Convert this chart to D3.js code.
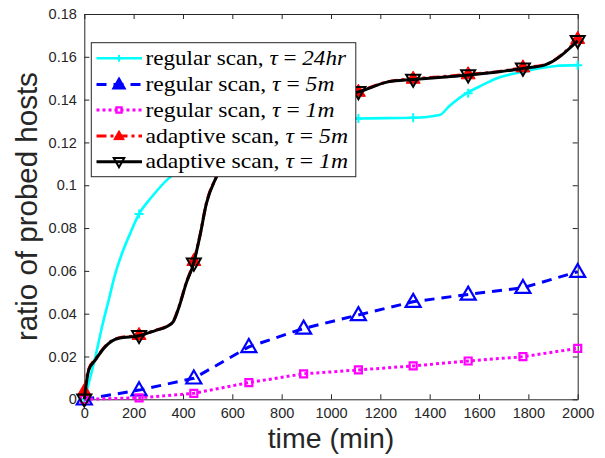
<!DOCTYPE html>
<html>
<head>
<meta charset="utf-8">
<script src="https://cdn.jsdelivr.net/npm/d3@7"></script>
<style>
html,body{margin:0;padding:0;background:#fff;}
svg{display:block;}
</style>
</head>
<body>
<svg id="chart" width="605" height="458"></svg>
<script>
// ---------- data ----------
const markerTimes = [0, 222, 444, 667, 889, 1111, 1333, 1556, 1778, 2000];

// regular scan, tau = 24hr (dense curve)
const cyanT = [0, 18, 45, 72, 99, 126, 153, 186, 222, 274, 342, 400, 500, 666, 888, 1050, 1111, 1333, 1440, 1480, 1548, 1600, 1670, 1777, 1912, 2000];
const cyanV = [0, 0.0075, 0.0199, 0.0339, 0.0464, 0.0588, 0.0682, 0.0775, 0.0866, 0.0946, 0.1032, 0.108, 0.114, 0.122, 0.128, 0.1308, 0.1312, 0.1315, 0.1328, 0.137, 0.1429, 0.146, 0.1499, 0.153, 0.1557, 0.1561];
const cyanMarkV = [0, 0.0866, 0.1075, 0.122, 0.128, 0.1312, 0.1315, 0.143, 0.153, 0.1561];

// regular scan, tau = 5m
const blueV = [0, 0.0043, 0.0098, 0.0245, 0.0331, 0.0394, 0.0456, 0.049, 0.0521, 0.0596];
// regular scan, tau = 1m
const magV = [0, 0.0007, 0.0028, 0.0078, 0.0119, 0.0137, 0.0156, 0.0179, 0.0199, 0.0238];

// adaptive scan, tau = 1m (dense curve)
const blackT = [0, 18, 45, 85, 139, 222, 290, 333, 360, 385, 414, 441, 468, 495, 536, 600, 700, 800, 900, 1000, 1111, 1231, 1333, 1450, 1548, 1683, 1778, 1865, 2000];
const blackV = [0, 0.0137, 0.0184, 0.0246, 0.0285, 0.0297, 0.0322, 0.0339, 0.0362, 0.0435, 0.0545, 0.0627, 0.0759, 0.0915, 0.104, 0.118, 0.13, 0.136, 0.139, 0.141, 0.1436, 0.1483, 0.1494, 0.1505, 0.1514, 0.153, 0.1546, 0.1561, 0.1675];
const blackMarkV = [0, 0.0297, 0.0635, 0.13, 0.1385, 0.1436, 0.1494, 0.1514, 0.1546, 0.1675];

// adaptive scan, tau = 5m (dense curve)
const redT = [0, 18, 45, 85, 139, 222, 290, 333, 360, 385, 414, 441, 468, 495, 536, 600, 700, 800, 900, 1000, 1111, 1231, 1333, 1450, 1548, 1683, 1778, 1865, 2000];
const redV = [0.004, 0.0142, 0.0187, 0.0248, 0.0287, 0.0299, 0.0323, 0.034, 0.0364, 0.0438, 0.0548, 0.0632, 0.0762, 0.0917, 0.1042, 0.118, 0.13, 0.136, 0.139, 0.141, 0.1438, 0.1484, 0.1497, 0.1507, 0.1517, 0.1532, 0.1549, 0.1563, 0.168];
const redMarkV = [0.004, 0.0302, 0.0648, 0.13, 0.1385, 0.1438, 0.1499, 0.152, 0.1552, 0.1685];

const xTicks = [0, 200, 400, 600, 800, 1000, 1200, 1400, 1600, 1800, 2000];
const xTickLabels = ["0", "200", "400", "600", "800", "1000", "1200", "1400", "1600", "1800", "2000"];
const yTicks = [0, 0.02, 0.04, 0.06, 0.08, 0.1, 0.12, 0.14, 0.16, 0.18];
const yTickLabels = ["0", "0.02", "0.04", "0.06", "0.08", "0.1", "0.12", "0.14", "0.16", "0.18"];

const legendLabels = [
  {pre: "regular scan, ", val: "24hr"},
  {pre: "regular scan, ", val: "5m"},
  {pre: "regular scan, ", val: "1m"},
  {pre: "adaptive scan, ", val: "5m"},
  {pre: "adaptive scan, ", val: "1m"}
];

// ---------- layout ----------
const svg = d3.select("#chart");
const L = 84.3, R = 577.7, T = 14, B = 399.3;
const x = d3.scaleLinear().domain([0, 2000]).range([L, R]);
const y = d3.scaleLinear().domain([0, 0.18]).range([B, T]);
const axisCol = "#262626";

svg.append("rect").attr("width", 605).attr("height", 458).attr("fill", "#fff");

// axes (ticks inward)
const fontSans = "'Liberation Sans', Arial, Helvetica, sans-serif";
const gx = svg.append("g").attr("transform", `translate(0,${B})`)
  .call(d3.axisBottom(x).tickValues(xTicks).tickFormat((d, i) => xTickLabels[i]).tickSizeInner(-5).tickSizeOuter(0).tickPadding(8.5));
const gy = svg.append("g").attr("transform", `translate(${L},0)`)
  .call(d3.axisLeft(y).tickValues(yTicks).tickFormat((d, i) => yTickLabels[i]).tickSizeInner(-5).tickSizeOuter(0).tickPadding(7.5));
const gxt = svg.append("g").attr("transform", `translate(0,${T})`)
  .call(d3.axisTop(x).tickValues(xTicks).tickFormat("").tickSizeInner(-5).tickSizeOuter(0));
const gyr = svg.append("g").attr("transform", `translate(${R},0)`)
  .call(d3.axisRight(y).tickValues(yTicks).tickFormat("").tickSizeInner(-5).tickSizeOuter(0));
[gx, gy, gxt, gyr].forEach(g => {
  g.selectAll(".domain").attr("stroke", axisCol).attr("stroke-width", 1);
  g.selectAll(".tick line").attr("stroke", axisCol).attr("stroke-width", 1);
  g.selectAll("text").attr("fill", axisCol).style("font-family", fontSans).style("font-size", "14.5px");
});

// axis labels
svg.append("text").attr("x", (L + R) / 2).attr("y", 447.5).attr("text-anchor", "middle")
  .style("font-family", fontSans).style("font-size", "28.5px").attr("fill", axisCol).text("time (min)");
svg.append("text").attr("transform", `translate(37,${(T + B) / 2}) rotate(-90)`).attr("text-anchor", "middle")
  .style("font-family", fontSans).style("font-size", "29.5px").attr("fill", axisCol).text("ratio of probed hosts");

// ---------- series ----------
const plot = svg.append("g");
const smooth = d3.line().x(d => x(d[0])).y(d => y(d[1])).curve(d3.curveMonotoneX);
const straight = d3.line().x(d => x(d[0])).y(d => y(d[1]));

const cyanPts = cyanT.map((t, i) => [t, cyanV[i]]);
const bluePts = markerTimes.map((t, i) => [t, blueV[i]]);
const magPts = markerTimes.map((t, i) => [t, magV[i]]);
const redPts = redT.map((t, i) => [t, redV[i]]);
const blackPts = blackT.map((t, i) => [t, blackV[i]]);

function triUp(s) { const h = s * 0.866; return `M0,${-h * 0.6}L${s / 2},${h * 0.4}L${-s / 2},${h * 0.4}Z`; }
function triDown(s) { const h = s * 0.866; return `M0,${h * 0.6}L${s / 2},${-h * 0.4}L${-s / 2},${-h * 0.4}Z`; }
function square(s) { return `M${-s / 2},${-s / 2}h${s}v${s}h${-s}Z`; }
function plus(s) { return `M${-s / 2},0H${s / 2}M0,${-s / 2}V${s / 2}`; }

const series = [
  {pts: cyanPts, line: smooth, color: "#00ffff", width: 2.6, dash: null, marks: cyanMarkV, shape: plus, size: 9, fill: "none", mw: 2},
  {pts: bluePts, line: straight, color: "#0000ff", width: 3, dash: "10,7", marks: blueV, shape: triUp, size: 15, fill: "none", mw: 2.2},
  {pts: magPts, line: straight, color: "#ff00ff", width: 3, dash: "3,3", marks: magV, shape: square, size: 7, fill: "none", mw: 2.2},
  {pts: redPts, line: smooth, color: "#ff0000", width: 3, dash: "10,4,3,4", marks: redMarkV, shape: triUp, size: 14, fill: "#ff0000", mw: 1},
  {pts: blackPts, line: smooth, color: "#000000", width: 3, dash: null, marks: blackMarkV, shape: triDown, size: 14, fill: "none", mw: 2}
];

series.forEach(s => {
  plot.append("path").attr("d", s.line(s.pts)).attr("fill", "none")
    .attr("stroke", s.color).attr("stroke-width", s.width)
    .attr("stroke-dasharray", s.dash).attr("stroke-linejoin", "round");
  plot.selectAll(null).data(markerTimes.map((t, i) => [t, s.marks[i]])).enter()
    .append("path").attr("transform", d => `translate(${x(d[0])},${y(d[1])})`)
    .attr("d", s.shape(s.size)).attr("fill", s.fill).attr("stroke", s.color).attr("stroke-width", s.mw);
});

// ---------- legend ----------
const lg = svg.append("g");
const lx = 91.3, ly = 42.7, lw = 264.5, lh = 134;
lg.append("rect").attr("x", lx).attr("y", ly).attr("width", lw).attr("height", lh)
  .attr("fill", "#fff").attr("stroke", "#262626").attr("stroke-width", 1);
const rowY = [58.3, 84.5, 110, 136, 161.7];
const rowW = [200.5, 189, 189, 202.5, 202.5];
const fontSerif = "'Liberation Serif', 'Times New Roman', serif";
series.forEach((s, i) => {
  const yy = rowY[i];
  lg.append("line").attr("x1", 96.5).attr("x2", 142).attr("y1", yy).attr("y2", yy)
    .attr("stroke", s.color).attr("stroke-width", s.width).attr("stroke-dasharray", s.dash);
  lg.append("path").attr("transform", `translate(119,${yy})`)
    .attr("d", s.shape(s.size * 0.75)).attr("fill", i === 1 ? s.color : s.fill)
    .attr("stroke", s.color).attr("stroke-width", s.mw);
  const t = lg.append("text").attr("x", 145.5).attr("y", yy + 6.5)
    .attr("textLength", rowW[i]).attr("lengthAdjust", "spacingAndGlyphs")
    .style("font-family", fontSerif).style("font-size", "21px").attr("fill", "#000");
  t.append("tspan").text(legendLabels[i].pre);
  t.append("tspan").style("font-style", "italic").text("τ");
  t.append("tspan").text(" = ");
  t.append("tspan").style("font-style", "italic").text(legendLabels[i].val);
});
</script>
</body>
</html>
